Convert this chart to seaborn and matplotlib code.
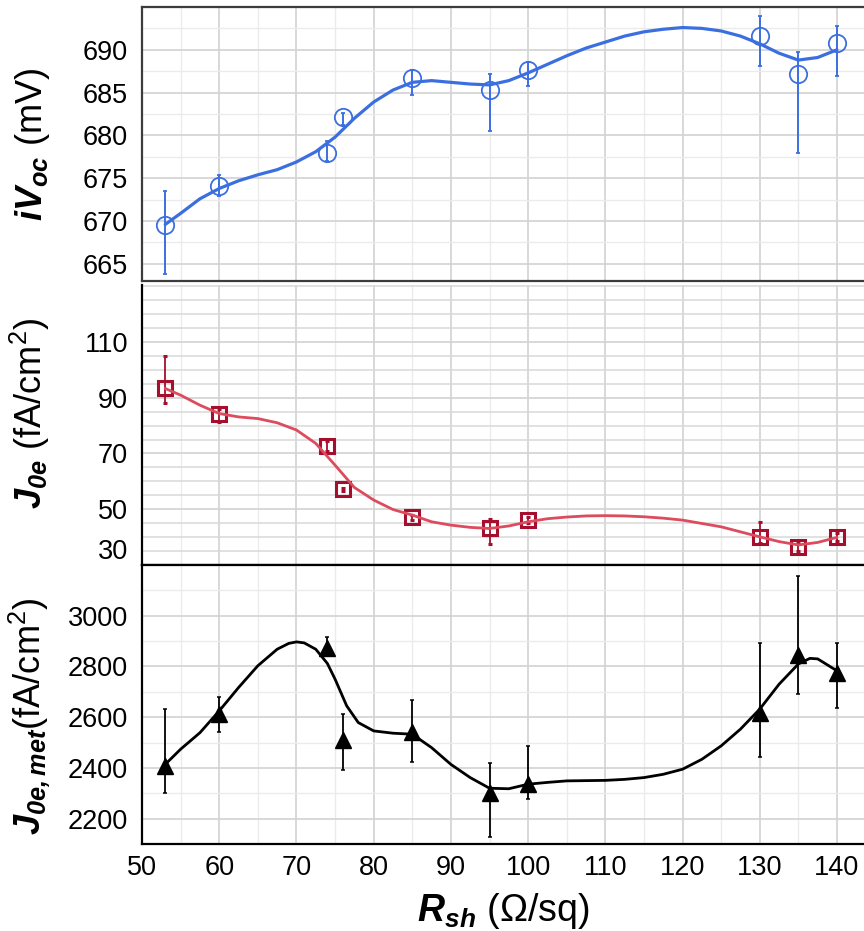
import matplotlib
matplotlib.use('Agg')
import matplotlib.pyplot as plt
from matplotlib.ticker import FixedLocator, MultipleLocator
import seaborn as sns

# measured points (sheet resistance, Ohm/sq)
rsh = [53, 60, 74, 76, 85, 95, 100, 130, 135, 140]

# implied Voc (mV) with asymmetric error bars
ivoc = [669.5, 674.1, 677.9, 682.2, 686.7, 685.3, 687.6, 691.6, 687.2, 690.8]
ivoc_lo = [5.7, 1.2, 0.9, 1.0, 2.0, 4.8, 1.8, 3.5, 9.2, 3.9]
ivoc_hi = [4.0, 1.3, 1.5, 0.4, 0.9, 1.9, 1.0, 2.3, 2.5, 2.0]

# emitter saturation current density (fA/cm2)
j0e = [93.6, 84.1, 72.7, 57.2, 47.1, 43.1, 46.1, 40.1, 36.6, 40.1]
j0e_lo = [5.5, 3.0, 1.8, 0.5, 1.0, 5.6, 1.0, 2.3, 1.5, 1.5]
j0e_hi = [11.3, 2.0, 1.8, 0.5, 1.0, 3.5, 1.0, 5.4, 1.5, 1.5]

# metallised J0e (fA/cm2)
j0met = [2408, 2612, 2871, 2511, 2542, 2303, 2336, 2616, 2846, 2774]
j0met_lo = [105, 70, 22, 119, 118, 174, 60, 171, 153, 136]
j0met_hi = [226, 66, 47, 103, 125, 118, 151, 275, 309, 117]

# smoothed trend curves
fit_x = [53, 55, 57.5, 60, 62.5, 65, 67.5, 70, 72.5, 75, 77.5, 80, 82.5, 85, 87.5,
         90, 92.5, 95, 97.5, 100, 102.5, 105, 107.5, 110, 112.5, 115, 117.5, 120,
         122.5, 125, 127.5, 130, 132.5, 135, 137.5, 140]
fit_ivoc = [669.6, 670.9, 672.6, 673.8, 674.7, 675.4, 676.0, 676.9, 678.1, 679.8,
            682.0, 683.9, 685.3, 686.2, 686.4, 686.2, 686.0, 685.9, 686.4, 687.3,
            688.3, 689.3, 690.2, 690.9, 691.6, 692.1, 692.4, 692.6, 692.5, 692.2,
            691.6, 690.7, 689.6, 688.8, 689.1, 690.0]
fit_j0e = [93.3, 90.9, 87.3, 84.3, 83.1, 82.5, 81.0, 78.4, 73.6, 65.8, 57.8, 53.3,
           49.9, 47.9, 45.5, 44.3, 43.5, 43.1, 44.0, 45.5, 46.6, 47.2, 47.6, 47.7,
           47.6, 47.3, 46.8, 46.1, 44.9, 43.7, 41.9, 40.1, 38.4, 37.2, 38.1, 39.9]
fit_x_met = [53, 55, 57.5, 60, 62.5, 65, 67.5, 69, 70, 71, 72.5, 74, 75, 76.5, 78,
             80, 82.5, 85, 87.5, 90, 92.5, 95, 97.5, 100, 102.5, 105, 107.5, 110,
             112.5, 115, 117.5, 120, 122.5, 125, 127.5, 130, 132.5, 135, 136.5,
             137.5, 140]
fit_j0met = [2414, 2474, 2539, 2625, 2717, 2803, 2868, 2891, 2897, 2893, 2868, 2812,
             2750, 2645, 2579, 2546, 2537, 2533, 2480, 2414, 2362, 2320, 2318, 2336,
             2343, 2349, 2350, 2351, 2355, 2362, 2375, 2395, 2434, 2487, 2553, 2632,
             2730, 2810, 2832, 2830, 2783]

sns.set_theme(style='white')
plt.rcParams['font.family'] = ['Liberation Sans', 'DejaVu Sans']
plt.rcParams['mathtext.fontset'] = 'custom'
plt.rcParams['mathtext.rm'] = 'Liberation Sans'
plt.rcParams['mathtext.it'] = 'Liberation Sans:italic'
plt.rcParams['mathtext.bf'] = 'Liberation Sans:bold'
plt.rcParams['mathtext.bfit'] = 'Liberation Sans:italic:bold'
for key in ['text.color', 'axes.labelcolor', 'xtick.color', 'ytick.color']:
    plt.rcParams[key] = 'black'

BLUE = '#3b6fe0'
RED_LINE = '#dc4b5e'
RED_MK = '#a50f2d'

fig = plt.figure(figsize=(8.64, 9.31), dpi=100)
left, width = 0.1644, 0.8356
ax1 = fig.add_axes([left, 0.6982, width, 0.2943])
ax2 = fig.add_axes([left, 0.3931, width, 0.3008])
ax3 = fig.add_axes([left, 0.0934, width, 0.2997])

TICK_FS = 19.5
LABEL_FS = 26


def style_axis(ax, spine_color='black'):
    ax.set_xlim(50, 143.5)
    ax.xaxis.set_major_locator(MultipleLocator(10))
    ax.xaxis.set_minor_locator(MultipleLocator(5))
    ax.set_axisbelow(True)
    ax.grid(which='major', color='#d2d2d2', lw=1.2)
    ax.grid(which='minor', color='#ebebeb', lw=1.0)
    ax.tick_params(which='major', direction='in', length=6, width=1.3,
                   labelsize=TICK_FS, pad=10, color='black', labelcolor='black')
    ax.tick_params(which='minor', direction='in', length=3.5, width=1.0, color='black')
    ax.tick_params(which='both', right=False, top=False)
    for s in ax.spines.values():
        s.set_color(spine_color)
        s.set_linewidth(1.6)
    ax.spines['right'].set_visible(False)


def trend(ax, x, y, color, lw):
    sns.lineplot(x=x, y=y, ax=ax, color=color, lw=lw, sort=False,
                 estimator=None, zorder=4, solid_joinstyle='round',
                 solid_capstyle='round')


# --- top: iVoc ---
style_axis(ax1, '#3c3c3c')
ax1.set_ylim(663, 695)
ax1.yaxis.set_major_locator(FixedLocator([665, 670, 675, 680, 685, 690]))
ax1.yaxis.set_minor_locator(MultipleLocator(2.5))
ax1.tick_params(which='both', bottom=False, labelbottom=False)
ax1.errorbar(rsh, ivoc, yerr=[ivoc_lo, ivoc_hi], fmt='o', ms=12.5, mfc='none',
             mec=BLUE, mew=1.3, ecolor=BLUE, elinewidth=1.4, capsize=1.5,
             capthick=1.2, zorder=3)
trend(ax1, fit_x, fit_ivoc, BLUE, 2.3)
ax1.set_ylabel(r'$\mathbfit{iV}_{\mathbfit{oc}}$ (mV)', fontsize=LABEL_FS)
ax1.yaxis.set_label_coords(-0.125, 0.5)

# --- middle: J0e ---
style_axis(ax2)
ax2.spines['top'].set_visible(False)
ax2.set_ylim(30, 130.4)
ax2.yaxis.set_major_locator(FixedLocator([30, 50, 70, 90, 110]))
ax2.yaxis.set_minor_locator(MultipleLocator(5))
ax2.grid(which='minor', axis='y', color='#d8d8d8', lw=1.1)
ax2.tick_params(which='both', bottom=False, labelbottom=False)
ax2.errorbar(rsh, j0e, yerr=[j0e_lo, j0e_hi], fmt='s', ms=10.5, mfc='none',
             mec=RED_MK, mew=2.2, ecolor=RED_MK, elinewidth=1.3, capsize=1.5,
             capthick=1.1, zorder=3)
trend(ax2, fit_x, fit_j0e, RED_LINE, 2.0)
ax2.set_ylabel(r'$\mathbfit{J}_{\mathbfit{0e}}$ (fA/cm$^{2}$)', fontsize=LABEL_FS)
ax2.yaxis.set_label_coords(-0.125, 0.543)
ax2.get_yticklabels()[0].set_va('bottom')

# --- bottom: J0e,met ---
style_axis(ax3)
ax3.set_ylim(2100, 3200)
ax3.yaxis.set_major_locator(FixedLocator([2200, 2400, 2600, 2800, 3000]))
ax3.yaxis.set_minor_locator(MultipleLocator(100))
ax3.tick_params(axis='x', which='major', pad=8)
ax3.errorbar(rsh, j0met, yerr=[j0met_lo, j0met_hi], fmt='^', ms=11.5, mfc='black',
             mec='black', ecolor='black', elinewidth=1.3, capsize=1.5,
             capthick=1.1, zorder=3)
trend(ax3, fit_x_met, fit_j0met, 'black', 2.0)
ax3.set_ylabel(r'$\mathbfit{J}_{\mathbfit{0e,met}}$(fA/cm$^{2}$)', fontsize=LABEL_FS)
ax3.yaxis.set_label_coords(-0.125, 0.459)
ax3.set_xlabel(r'$\mathbfit{R}_{\mathbfit{sh}}$ (Ω/sq)', fontsize=27)
ax3.xaxis.set_label_coords(0.5, -0.17)

fig.savefig('out.png', dpi=100)
